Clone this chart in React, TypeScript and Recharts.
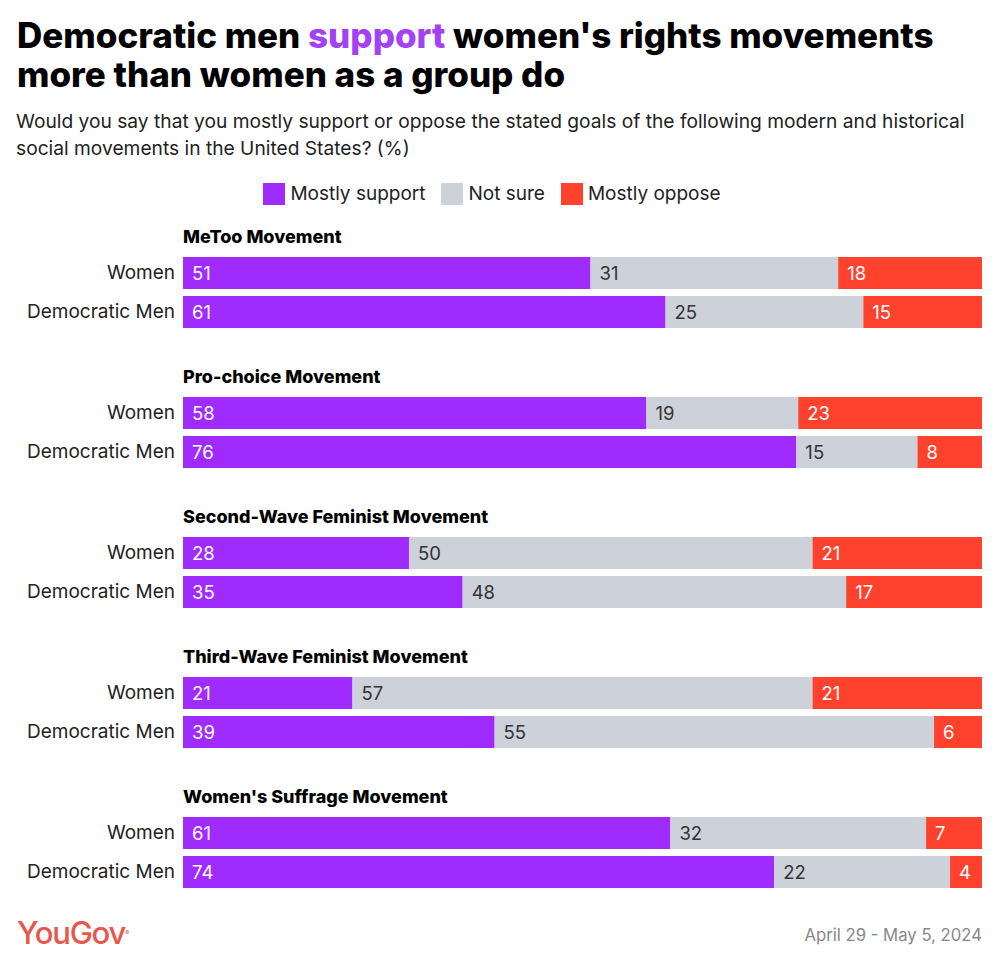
import React from "react";
import { BarChart, Bar, XAxis, YAxis, LabelList } from "recharts";

const movements = [
  "MeToo Movement",
  "Pro-choice Movement",
  "Second-Wave Feminist Movement",
  "Third-Wave Feminist Movement",
  "Women's Suffrage Movement",
];
const groups = ["Women", "Democratic Men"];

// [Women, Democratic Men] per movement
const support = [
  [51, 61],
  [58, 76],
  [28, 35],
  [21, 39],
  [61, 74],
];
const notSure = [
  [31, 25],
  [19, 15],
  [50, 48],
  [57, 55],
  [32, 22],
];
const oppose = [
  [18, 15],
  [23, 8],
  [21, 17],
  [21, 6],
  [7, 4],
];

const PURPLE = "#9f2bff";
const GRAY = "#cdd1da";
const RED = "#ff422d";
const FONT = "Inter, 'Noto Sans', sans-serif";

// bars are drawn as share of row total so every bar spans the full width
const buildRows = (i: number) =>
  groups.map((g, j) => {
    const s = support[i][j];
    const n = notSure[i][j];
    const o = oppose[i][j];
    const t = s + n + o;
    return {
      group: g,
      support: (s / t) * 100,
      notSure: (n / t) * 100,
      oppose: (o / t) * 100,
      supportLabel: s,
      notSureLabel: n,
      opposeLabel: o,
    };
  });

const legendItems = [
  { label: "Mostly support", color: PURPLE },
  { label: "Not sure", color: GRAY },
  { label: "Mostly oppose", color: RED },
];

export default function App() {
  return (
    <div
      style={{
        position: "absolute",
        left: 0,
        top: 0,
        width: 1000,
        height: 968,
        background: "#fff",
        fontFamily: FONT,
        overflow: "hidden",
      }}
    >
      <div
        style={{
          position: "absolute",
          left: 17,
          top: 16,
          fontSize: 35,
          lineHeight: "39px",
          fontWeight: 800,
          letterSpacing: 0,
          color: "#000",
          width: 980,
        }}
      >
        Democratic men <span style={{ color: "#a342f5" }}>support</span> women's
        rights movements
        <br />
        more than women as a group do
      </div>
      <div
        style={{
          position: "absolute",
          left: 16,
          top: 108,
          fontSize: 19.2,
          lineHeight: "27px",
          color: "#222",
          width: 984,
        }}
      >
        Would you say that you mostly support or oppose the stated goals of the
        following modern and historical
        <br />
        social movements in the United States? (%)
      </div>
      <div
        style={{
          position: "absolute",
          left: 0,
          top: 183,
          width: 984,
          display: "flex",
          justifyContent: "center",
          gap: 16,
          fontSize: 19,
          color: "#222",
        }}
      >
        {legendItems.map((it) => (
          <div key={it.label} style={{ display: "flex", alignItems: "center" }}>
            <div
              style={{ width: 22, height: 22, background: it.color, marginRight: 5 }}
            />
            <span style={{ lineHeight: "22px" }}>{it.label}</span>
          </div>
        ))}
      </div>

      {movements.map((m, i) => (
        <React.Fragment key={m}>
          <div
            style={{
              position: "absolute",
              left: 183,
              top: 227 + i * 140,
              fontSize: 18,
              lineHeight: "20px",
              fontWeight: 800,
              color: "#000",
            }}
          >
            {m}
          </div>
          <div style={{ position: "absolute", left: 0, top: 252.5 + i * 140 }}>
            <BarChart
              width={982}
              height={78}
              layout="vertical"
              data={buildRows(i)}
              margin={{ top: 0, right: 0, bottom: 0, left: 0 }}
              barSize={32}
            >
              <XAxis type="number" domain={[0, 100]} hide />
              <YAxis
                type="category"
                dataKey="group"
                width={183}
                axisLine={false}
                tickLine={false}
                tick={{ fill: "#222", fontSize: 19, fontFamily: FONT }}
              />
              <Bar dataKey="support" stackId="a" fill={PURPLE} isAnimationActive={false}>
                <LabelList
                  dataKey="supportLabel"
                  position="insideLeft"
                  offset={9}
                  fill="#fff"
                  fontSize={18.5}
                  fontFamily={FONT}
                />
              </Bar>
              <Bar dataKey="notSure" stackId="a" fill={GRAY} isAnimationActive={false}>
                <LabelList
                  dataKey="notSureLabel"
                  position="insideLeft"
                  offset={9}
                  fill="#333"
                  fontSize={18.5}
                  fontFamily={FONT}
                />
              </Bar>
              <Bar dataKey="oppose" stackId="a" fill={RED} isAnimationActive={false}>
                <LabelList
                  dataKey="opposeLabel"
                  position="insideLeft"
                  offset={9}
                  fill="#fff"
                  fontSize={18.5}
                  fontFamily={FONT}
                />
              </Bar>
            </BarChart>
          </div>
        </React.Fragment>
      ))}

      <div
        style={{
          position: "absolute",
          left: 17,
          top: 913,
          fontSize: 31,
          fontWeight: 500,
          letterSpacing: -1.2,
          color: "#e8574c",
          lineHeight: "40px",
        }}
      >
        YouGov<sup style={{ fontSize: 6, verticalAlign: "top" }}>®</sup>
      </div>
      <div
        style={{
          position: "absolute",
          right: 18,
          top: 924,
          fontSize: 16.7,
          color: "#888",
          lineHeight: "22px",
        }}
      >
        April 29 - May 5, 2024
      </div>
    </div>
  );
}
